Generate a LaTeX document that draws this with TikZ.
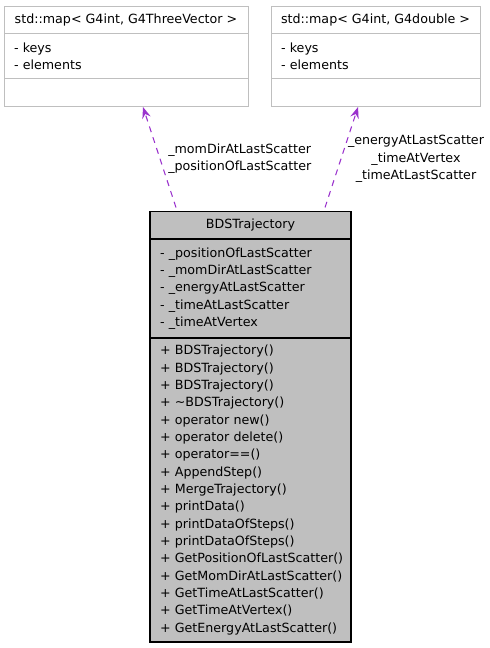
\documentclass[tikz,border=0pt]{standalone}
\usepackage{fontspec}
\setmainfont{DejaVu Sans}
\usetikzlibrary{arrows.meta, positioning}
\definecolor{framegray}{RGB}{191,191,191}
\definecolor{classgray}{RGB}{191,191,191}
\definecolor{usage}{RGB}{154,50,205}
\hyphenpenalty=10000
\exhyphenpenalty=10000

\begin{document}
\begin{tikzpicture}[
    x=0.75pt, y=-0.75pt,
    node distance=0pt,
    font=\fontsize{9.5}{13}\selectfont,
    part/.style={rectangle, draw=framegray, fill=white, line width=0.75pt, inner xsep=7.5pt, inner ysep=0pt, outer sep=0pt, anchor=north west, align=left},
    maptitle/.style={part, align=center, minimum height=20.25pt},
    mapattr/.style={part, minimum height=33.75pt},
    mapempty/.style={part, minimum height=21pt},
    cls/.style={part, draw=black, fill=classgray, line width=0.9pt, text width=135.75pt},
    usearrow/.style={-{Stealth[length=8.5pt, width=6.5pt, inset=3pt]}, dash pattern=on 4.5pt off 4pt, usage, line width=0.8pt},
    uselabel/.style={inner sep=0pt, align=#1},
    uselabel/.default=left
]
    \useasboundingbox (0,0) rectangle (489,648);

    % std::map< G4int, G4ThreeVector >
    \node (vecT) [maptitle, minimum width=183pt] at (4,7) {std::map< G4int, G4ThreeVector >};
    \node (vecA) [mapattr, text width=168pt, below=of vecT] {- keys\\- elements};
    \node (vecE) [mapempty, text width=168pt, below=of vecA] {};

    % std::map< G4int, G4double >
    \node (dblT) [maptitle, minimum width=156.75pt] at (271,7) {std::map< G4int, G4double >};
    \node (dblA) [mapattr, text width=141.75pt, below=of dblT] {- keys\\- elements};
    \node (dblE) [mapempty, text width=141.75pt, below=of dblA] {};

    % BDSTrajectory
    \node (bdsT) [cls, align=center, minimum height=20.6pt] at (150,211.5) {BDSTrajectory};
    \node (bdsA) [cls, minimum height=74.25pt, below=of bdsT] {%
        -~\_positionOfLastScatter\\-~\_momDirAtLastScatter\\-~\_energyAtLastScatter\\%
        -~\_timeAtLastScatter\\-~\_timeAtVertex};
    \node (bdsM) [cls, minimum height=228pt, below=of bdsA] {%
        +~BDSTrajectory()\\+~BDSTrajectory()\\+~BDSTrajectory()\\+~\textasciitilde BDSTrajectory()\\%
        +~operator~new()\\+~operator~delete()\\+~operator==()\\+~AppendStep()\\%
        +~MergeTrajectory()\\+~printData()\\+~printDataOfSteps()\\+~printDataOfSteps()\\%
        +~GetPositionOfLastScatter()\\+~GetMomDirAtLastScatter()\\+~GetTimeAtLastScatter()\\%
        +~GetTimeAtVertex()\\+~GetEnergyAtLastScatter()};

    % usage relations
    \draw [usearrow] ([xshift=19.5pt, yshift=3pt]bdsT.north west) -- ([xshift=104.25pt]vecE.south west);
    \draw [usearrow] ([xshift=131.25pt, yshift=3pt]bdsT.north west) -- ([xshift=65.25pt]dblE.south west);

    \node (vecL) [uselabel, anchor=west] at (168,158.5) {\_momDirAtLastScatter\\\_positionOfLastScatter};
    \node (dblL) [uselabel=center] at (416,159) {\_energyAtLastScatter\\\_timeAtVertex\\\_timeAtLastScatter};
\end{tikzpicture}
\end{document}
